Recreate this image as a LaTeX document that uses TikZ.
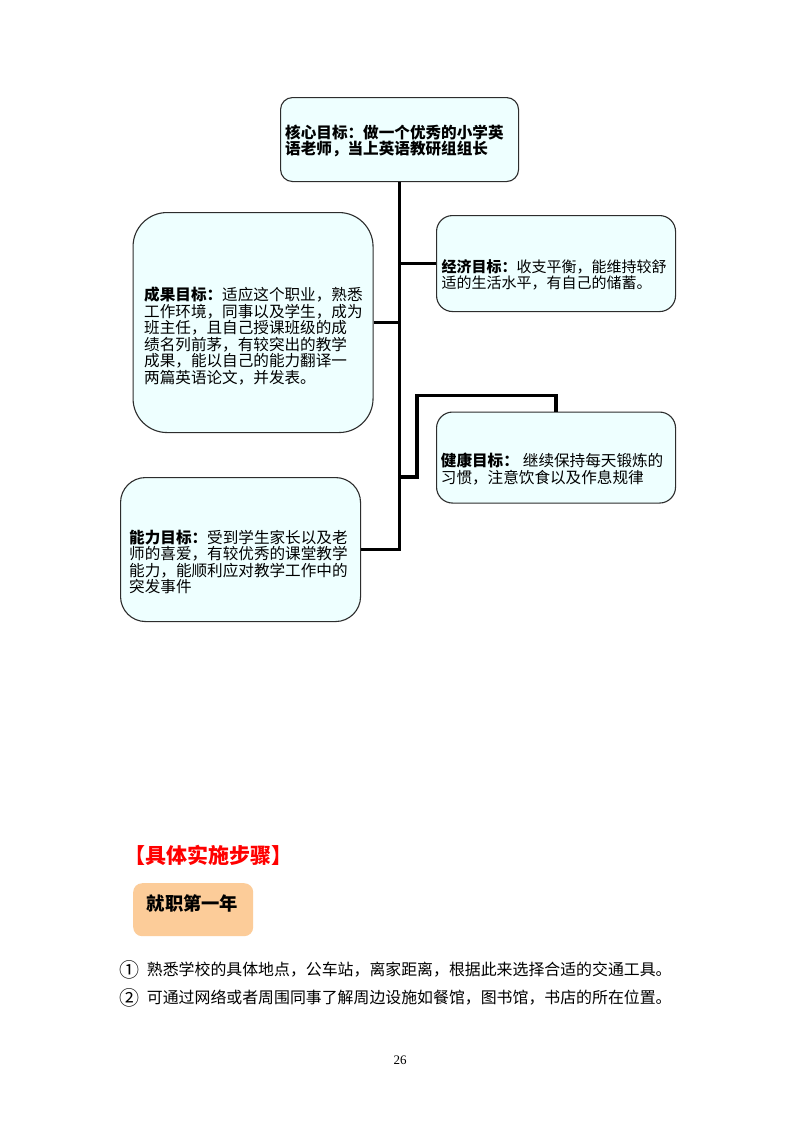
\documentclass[tikz,border=0pt]{standalone}
\usepackage{fontspec}
\newfontfamily\cjk{Noto Sans CJK SC}
\newfontfamily\pgnum{Liberation Serif}
\definecolor{boxfill}{RGB}{238,255,255}
\definecolor{peach}{RGB}{252,204,153}
\definecolor{bordergray}{RGB}{45,45,45}
\tikzset{
  goalbox/.style={draw=bordergray, line width=1.1pt, fill=boxfill, rounded corners=#1,
    inner sep=0pt, anchor=north west},
  trunk/.style={line width=3.2pt, black, line join=miter},
  gtext/.style={anchor=west, inner sep=0pt, align=left, text=black,
    font=\cjk\fontsize{15.6}{16.6}\selectfont},
  itemtext/.style={anchor=west, inner sep=0pt, text=black,
    font=\cjk\fontsize{15.9}{18}\selectfont},
  itemnum/.style={inner sep=0pt, text=black,
    font=\cjk\fontsize{20}{20}\selectfont}
}
\begin{document}
\begin{tikzpicture}[x=1pt,y=-1pt]
\fill[white] (0,0) rectangle (800,1132);
\useasboundingbox (0,0) rectangle (800,1132);

% goal boxes
\node[goalbox=12, minimum width=238pt, minimum height=84pt] (core) at (280,97) {};
\node[goalbox=34, minimum width=240pt, minimum height=220pt] (cg) at (132.5,212) {};
\node[goalbox=16, minimum width=239pt, minimum height=96pt] (jj) at (436,215) {};
\node[goalbox=16, minimum width=239pt, minimum height=91pt] (jk) at (436,411.5) {};
\node[goalbox=25, minimum width=240pt, minimum height=144pt] (nl) at (120,477) {};

% connectors
\coordinate (kt) at (399,477);
\coordinate (kb) at (417,395.5);
\draw[trunk] (core.south) |- (nl.east);
\draw[trunk] (cg.east) -- (cg.east -| core.south);
\draw[trunk] (jj.west) -- (jj.west -| core.south);
\draw[trunk] (kt) -| (kb) -| (jk.north);

% texts
\node[gtext, font=\cjk\bfseries\fontsize{15.6}{16.2}\selectfont] (coret) at (285,141.3)
  {核心目标：做一个优秀的小学英\\语老师，当上英语教研组组长};
\node[gtext] (cgt) at (144,336)
  {{\bfseries 成果目标：}适应这个职业，熟悉\\工作环境，同事以及学生，成为\\班主任，且自己授课班级的成\\绩名列前茅，有较突出的教学\\成果，能以自己的能力翻译一\\两篇英语论文，并发表。};
\node[gtext, font=\cjk\fontsize{15}{16.6}\selectfont] (jjt) at (441.5,275)
  {{\bfseries 经济目标：}收支平衡，能维持较舒\\适的生活水平，有自己的储蓄。};
\node[gtext] (jkt) at (440.7,469)
  {{\bfseries 健康目标：}\hspace{4pt}继续保持每天锻炼的\\习惯，注意饮食以及作息规律};
\node[gtext] (nlt) at (129,562)
  {{\bfseries 能力目标：}受到学生家长以及老\\师的喜爱，有较优秀的课堂教学\\能力，能顺利应对教学工作中的\\突发事件};

% lower section
\node[anchor=west, inner sep=0pt, text=red, font=\cjk\bfseries\fontsize{21}{24}\selectfont] (head) at (124,855) {【具体实施步骤】};
\node[anchor=north west, fill=peach, rounded corners=9, minimum width=120pt, minimum height=53pt, inner sep=0pt] (yr1) at (133,883) {};
\node[anchor=west, inner sep=0pt, text=black, font=\cjk\bfseries\fontsize{18.3}{20}\selectfont] (yr1t) at (146.5,903) {就职第一年};
\node[itemnum] (n1) at (129.7,969.5) {①};
\node[itemtext] (i1) at (146.7,969.5) {熟悉学校的具体地点，公车站，离家距离，根据此来选择合适的交通工具。};
\node[itemnum] (n2) at (129.7,998) {②};
\node[itemtext] (i2) at (146.7,998) {可通过网络或者周围同事了解周边设施如餐馆，图书馆，书店的所在位置。};
\node[inner sep=0pt, text=black, font=\pgnum\fontsize{13}{15}\selectfont] (pg) at (400,1060) {26};
\end{tikzpicture}
\end{document}
